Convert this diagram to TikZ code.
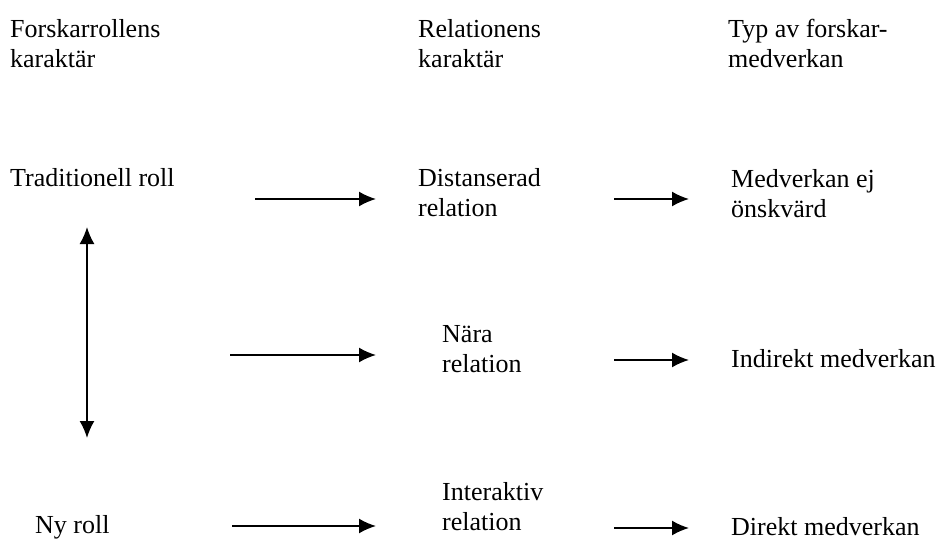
\documentclass[tikz,border=0pt]{standalone}
\usepackage{fontspec}
\setmainfont{Liberation Serif}
\usetikzlibrary{arrows.meta}
\begin{document}
\begin{tikzpicture}[x=1pt,y=-1pt,
  lbl/.style={anchor=north west,inner sep=0pt,align=left,font=\fontsize{26}{30}\selectfont},
  tip/.style={Latex[length=17pt,width=15pt]},
  arr/.style={line width=1.8pt,-{Latex[length=17pt,width=15pt]}},
  darr/.style={line width=1.8pt,{Latex[length=17pt,width=15pt]}-{Latex[length=17pt,width=15pt]}}]
\useasboundingbox[fill=white] (0,0) rectangle (941,545);
% headers (top = baseline - 21)
\node[lbl] (h1) at (10,16) {\strut Forskarrollens\\\strut karaktär};
\node[lbl] (h2) at (418,16) {\strut Relationens\\\strut karaktär};
\node[lbl] (h3) at (728,16) {\strut Typ av forskar-\\\strut medverkan};
% rows
\node[lbl] (trad) at (10,165) {\strut Traditionell roll};
\node[lbl] (dist) at (418,165) {\strut Distanserad\\\strut relation};
\node[lbl] (medv) at (731,166) {\strut Medverkan ej\\\strut önskvärd};
\node[lbl] (nara) at (442,321) {\strut Nära\\\strut relation};
\node[lbl] (indir) at (731,346) {\strut Indirekt medverkan};
\node[lbl] (inter) at (442,479) {\strut Interaktiv\\\strut relation};
\node[lbl] (ny) at (35,512) {\strut Ny roll};
\node[lbl] (dir) at (731,514) {\strut Direkt medverkan};
% arrow end points
\coordinate (a1s) at (255,199); \coordinate (a1e) at (376,199);
\coordinate (a2s) at (614,199); \coordinate (a2e) at (689,199);
\coordinate (a3s) at (230,355); \coordinate (a3e) at (376,355);
\coordinate (a4s) at (614,360); \coordinate (a4e) at (689,360);
\coordinate (a5s) at (232,526); \coordinate (a5e) at (376,526);
\coordinate (a6s) at (614,528); \coordinate (a6e) at (689,528);
\coordinate (vt) at (87,227); \coordinate (vb) at (87,438);
\draw[arr] (a1s) -- (a1e);
\draw[arr] (a2s) -- (a2e);
\draw[arr] (a3s) -- (a3e);
\draw[arr] (a4s) -- (a4e);
\draw[arr] (a5s) -- (a5e);
\draw[arr] (a6s) -- (a6e);
\draw[darr] (vt) -- (vb);
\end{tikzpicture}
\end{document}
